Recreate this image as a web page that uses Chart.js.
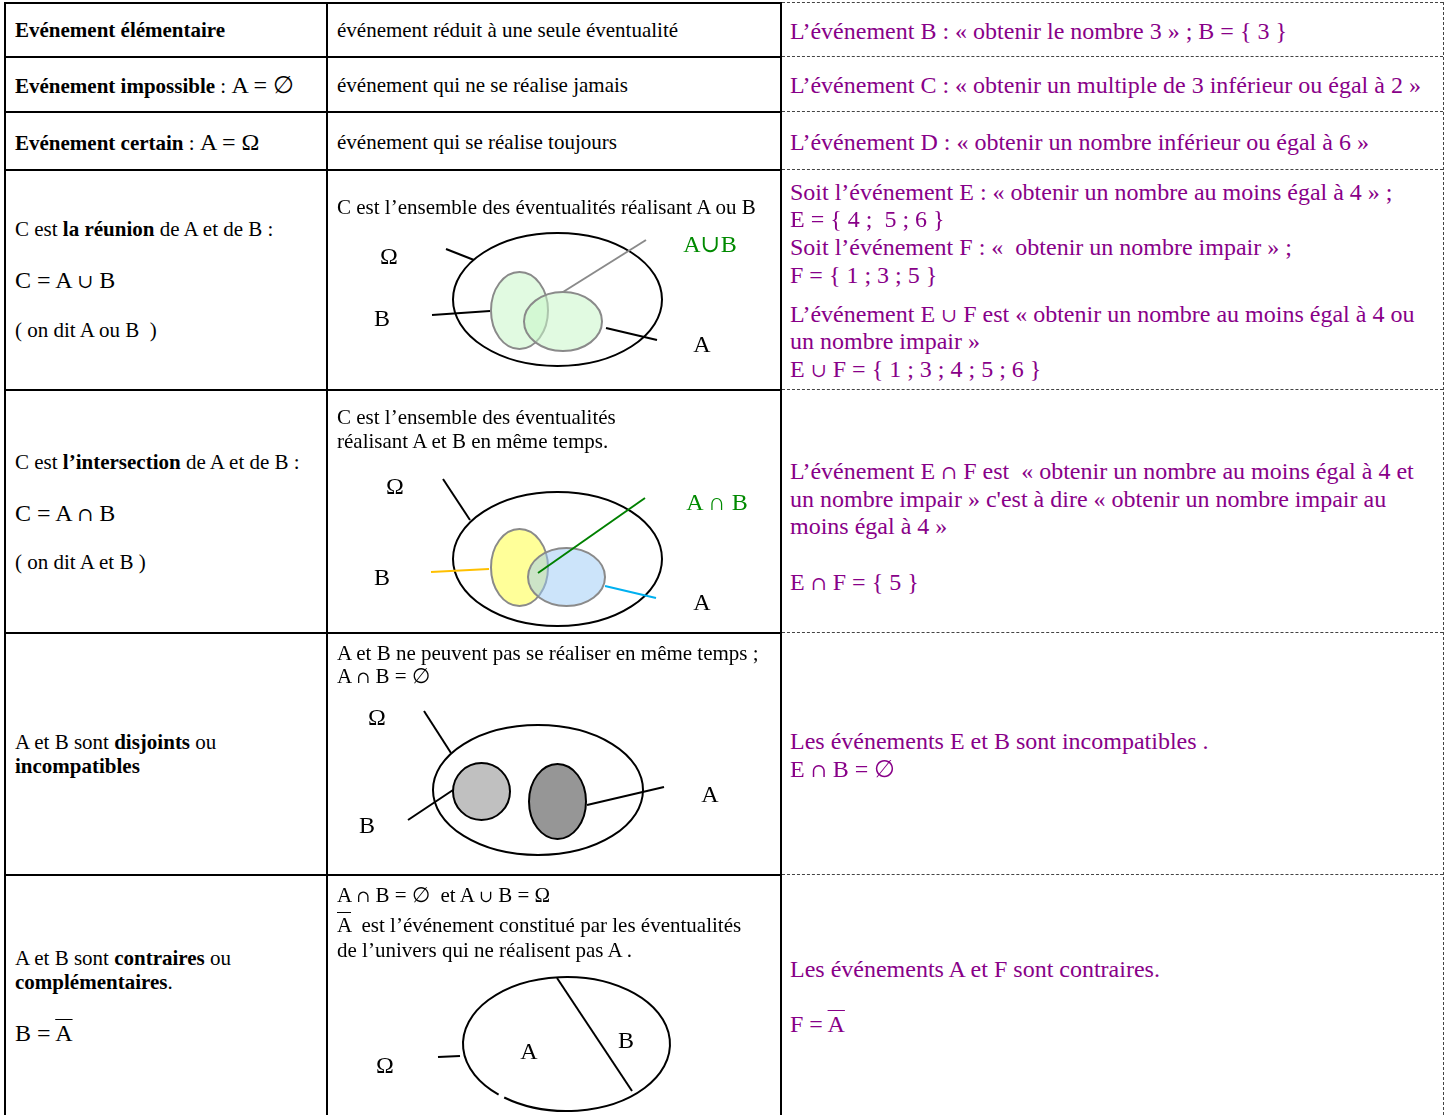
<!DOCTYPE html>
<html>
<head>
<meta charset="utf-8">
<script src="https://cdn.jsdelivr.net/npm/chart.js@4.4.1/dist/chart.umd.min.js"></script>
<style>
body{margin:0;background:#fff;width:1448px;height:1115px;overflow:hidden;position:relative;font-family:"Liberation Serif","DejaVu Serif","Times New Roman",serif;color:#000}
.t{position:absolute;white-space:pre;font-size:21px;line-height:24px;height:24px}
.r{color:#880088;font-size:24px;line-height:28px;height:28px}
.m{font-size:24px}
.s{font-family:"DejaVu Serif",serif;font-size:0.8em}
.ov{text-decoration:overline;text-decoration-thickness:1px}
.h{position:absolute;height:2px;background:#000}
.v{position:absolute;width:2px;background:#000}
.hd{position:absolute;height:0;border-top:1px dashed #444}
.vd{position:absolute;width:0;border-left:1px dashed #444}
.box{position:absolute}
.box canvas{position:absolute;left:0;top:0}
.lab{position:absolute;font-size:24px;line-height:24px;transform:translate(-50%,-50%);white-space:pre}
</style>
</head>
<body>
<script>
// table grid
const rowEdges = [2, 56, 111, 169, 389, 632, 874, 1116];
const colEdges = [4, 326, 780, 1443];
const colText = [15, 337, 790];

// text of each cell: [column, y centre, html]
const cellLines = [
  [0, 30, '<b>Evénement élémentaire</b>'],
  [0, 85, '<b>Evénement impossible</b> : <span class="m">A = ∅</span>'],
  [0, 142, '<b>Evénement certain</b> : <span class="m">A = Ω</span>'],
  [0, 229, 'C est <b>la réunion</b> de A et de B :'],
  [0, 280, '<span class="m">C = A <span class="s">∪</span> B</span>'],
  [0, 330, '( on dit A ou B  )'],
  [0, 462, 'C est <b>l’intersection</b> de A et de B :'],
  [0, 513, '<span class="m">C = A <span class="s">∩</span> B</span>'],
  [0, 562, '( on dit A et B )'],
  [0, 742, 'A et B sont <b>disjoints</b> ou'],
  [0, 766, '<b>incompatibles</b>'],
  [0, 958, 'A et B sont <b>contraires</b> ou'],
  [0, 982, '<b>complémentaires</b>.'],
  [0, 1033, '<span class="m">B = <span class="ov">A</span></span>'],
  [1, 30, 'événement réduit à une seule éventualité'],
  [1, 85, 'événement qui ne se réalise jamais'],
  [1, 142, 'événement qui se réalise toujours'],
  [1, 207, 'C est l’ensemble des éventualités réalisant A ou B'],
  [1, 417, 'C est l’ensemble des éventualités'],
  [1, 441, 'réalisant A et B en même temps.'],
  [1, 653, 'A et B ne peuvent pas se réaliser en même temps ;'],
  [1, 676, 'A <span class="s">∩</span> B = ∅'],
  [1, 895, 'A <span class="s">∩</span> B = ∅  et A <span class="s">∪</span> B = Ω'],
  [1, 925, '<span class="ov">A</span>  est l’événement constitué par les éventualités'],
  [1, 950, 'de l’univers qui ne réalisent pas A .'],
  [2, 31, 'L’événement B : « obtenir le nombre 3 » ; B = { 3 }'],
  [2, 85, 'L’événement C : « obtenir un multiple de 3 inférieur ou égal à 2 »'],
  [2, 142, 'L’événement D : « obtenir un nombre inférieur ou égal à 6 »'],
  [2, 192, 'Soit l’événement E : « obtenir un nombre au moins égal à 4 » ;'],
  [2, 219, 'E = { 4 ;  5 ; 6 }'],
  [2, 247, 'Soit l’événement F : «  obtenir un nombre impair » ;'],
  [2, 275, 'F = { 1 ; 3 ; 5 }'],
  [2, 314, 'L’événement E <span class="s">∪</span> F est « obtenir un nombre au moins égal à 4 ou'],
  [2, 341, 'un nombre impair »'],
  [2, 369, 'E <span class="s">∪</span> F = { 1 ; 3 ; 4 ; 5 ; 6 }'],
  [2, 471, 'L’événement E <span class="s">∩</span> F est  « obtenir un nombre au moins égal à 4 et'],
  [2, 499, 'un nombre impair » c\'est à dire « obtenir un nombre impair au'],
  [2, 526, 'moins égal à 4 »'],
  [2, 582, 'E <span class="s">∩</span> F = { 5 }'],
  [2, 741, 'Les événements E et B sont incompatibles .'],
  [2, 769, 'E <span class="s">∩</span> B = ∅'],
  [2, 969, 'Les événements A et F sont contraires.'],
  [2, 1024, 'F = <span class="ov">A</span>']
];

// diagrams, in units measured from the top-left of their cell
// ellipses: [cx, cy, rx, ry, fill, stroke, arcStart, arcEnd]
const unionEllipses = [
  [230.5, 130.5, 104.5, 66.5, null, '#000', 0, 360],
  [192.5, 141.5, 28.5, 38.5, 'rgba(200,245,200,0.55)', '#8a8a8a', 0, 360],
  [236, 152.5, 39, 29.5, 'rgba(200,245,200,0.55)', '#8a8a8a', 0, 360]
];
// lines: [x1, y1, x2, y2, colour]
const unionLines = [
  [119, 80, 147, 91, '#000'],
  [105, 146, 163, 142, '#000'],
  [279, 159, 330, 171, '#000'],
  [236, 123, 319, 71, '#8a8a8a']
];
// labels: [x, y, text, colour]
const unionLabels = [
  [62, 87, 'Ω', '#000'], [55, 149, 'B', '#000'], [375, 175, 'A', '#000'], [383, 75, 'A∪B', '#008a00']
];

const interEllipses = [
  [230.5, 170, 104.5, 67, null, '#000', 0, 360],
  [192.5, 178.5, 28.5, 38.5, '#ffff99', '#8a8a8a', 0, 360],
  [239.5, 188, 38.5, 29, 'rgba(153,201,245,0.5)', '#8a8a8a', 0, 360]
];
const interLines = [
  [116, 90, 143, 131, '#000'],
  [104, 183, 162, 180, '#ffc000'],
  [278, 197, 329, 209, '#00b0f0'],
  [211, 184, 318, 109, '#008000']
];
const interLabels = [
  [68, 97, 'Ω', '#000'], [55, 188, 'B', '#000'], [375, 213, 'A', '#000'], [390, 113, 'A ∩ B', '#008a00']
];

const disjEllipses = [
  [211, 158, 105, 65, null, '#000', 0, 360],
  [154.5, 159.5, 28.5, 28.5, '#c0c0c0', '#000', 0, 360],
  [230.5, 169.5, 28.5, 37.5, '#969696', '#000', 0, 360]
];
const disjLines = [
  [97, 79, 124, 121, '#000'],
  [81, 188, 126, 158, '#000'],
  [260, 173, 337, 155, '#000']
];
const disjLabels = [
  [50, 85, 'Ω', '#000'], [40, 193, 'B', '#000'], [383, 162, 'A', '#000']
];

const complEllipses = [
  [239.5, 170, 103.5, 67, null, '#000', 131, 487]
];
const complLines = [
  [230, 104, 305, 217, '#000'],
  [111, 183, 133, 182, '#000']
];
const complLabels = [
  [58, 191, 'Ω', '#000'], [202, 177, 'A', '#000'], [299, 166, 'B', '#000']
];

function add(cls, css, html) {
  const d = document.createElement('div');
  d.className = cls;
  Object.assign(d.style, css);
  if (html) d.innerHTML = html;
  document.body.appendChild(d);
  return d;
}

// ellipses are drawn from their datasets through the chart scales
const ellipsePlugin = {
  id: 'ellipses',
  beforeDatasetsDraw(chart) {
    const ctx = chart.ctx, xs = chart.scales.x, ys = chart.scales.y;
    chart.data.datasets.forEach(ds => {
      if (!ds.ellipse) return;
      const p = ds.data[0];
      const cx = xs.getPixelForValue(p.x), cy = ys.getPixelForValue(p.y);
      const rx = Math.abs(xs.getPixelForValue(p.x + ds.ellipse[0]) - cx);
      const ry = Math.abs(ys.getPixelForValue(p.y + ds.ellipse[1]) - cy);
      ctx.save();
      ctx.beginPath();
      ctx.ellipse(cx, cy, rx, ry, 0, ds.arc[0] * Math.PI / 180, ds.arc[1] * Math.PI / 180);
      if (ds.fillColor) { ctx.fillStyle = ds.fillColor; ctx.fill(); }
      ctx.lineWidth = 2;
      ctx.strokeStyle = ds.strokeColor;
      ctx.stroke();
      ctx.restore();
    });
  }
};

function diagram(row, ellipses, lines, labels) {
  const left = colEdges[1] + 1, top = rowEdges[row];
  const w = colEdges[2] - colEdges[1], h = rowEdges[row + 1] - rowEdges[row];
  const box = add('box', {left: left + 'px', top: top + 'px', width: w + 'px', height: h + 'px'});
  const cv = document.createElement('canvas');
  cv.width = w; cv.height = h;
  box.appendChild(cv);
  const datasets = [];
  ellipses.forEach(e => datasets.push({
    data: [{x: e[0], y: e[1]}], ellipse: [e[2], e[3]], fillColor: e[4], strokeColor: e[5],
    arc: [e[6], e[7]], pointRadius: 0
  }));
  lines.forEach(l => datasets.push({
    data: [{x: l[0], y: l[1]}, {x: l[2], y: l[3]}], showLine: true,
    borderColor: l[4], borderWidth: 2, pointRadius: 0
  }));
  new Chart(cv, {
    type: 'scatter',
    data: {datasets},
    plugins: [ellipsePlugin],
    options: {
      responsive: false,
      animation: false,
      events: [],
      layout: {padding: 0},
      plugins: {legend: {display: false}, tooltip: {enabled: false}},
      scales: {
        x: {type: 'linear', min: 0, max: w, display: false},
        y: {type: 'linear', min: 0, max: h, reverse: true, display: false}
      }
    }
  });
  labels.forEach(l => {
    const s = document.createElement('div');
    s.className = 'lab';
    s.style.left = l[0] + 'px';
    s.style.top = l[1] + 'px';
    s.style.color = l[3];
    s.textContent = l[2];
    box.appendChild(s);
  });
}

diagram(3, unionEllipses, unionLines, unionLabels);
diagram(4, interEllipses, interLines, interLabels);
diagram(5, disjEllipses, disjLines, disjLabels);
diagram(6, complEllipses, complLines, complLabels);

cellLines.forEach(([c, y, html]) => {
  const right = c === 2;
  const lh = right ? 28 : 24;
  add(right ? 't r' : 't', {left: colText[c] + 'px', top: (y - lh / 2) + 'px'}, html);
});

// borders
rowEdges.slice(0, -1).forEach(y => {
  add('h', {left: colEdges[0] + 'px', top: y + 'px', width: (colEdges[2] - colEdges[0] + 2) + 'px'});
  add('hd', {left: (colEdges[2] + 2) + 'px', top: y + 'px', width: (colEdges[3] - colEdges[2] - 2) + 'px'});
});
colEdges.slice(0, 3).forEach(x => {
  add('v', {left: x + 'px', top: rowEdges[0] + 'px', height: (1115 - rowEdges[0]) + 'px'});
});
add('vd', {left: colEdges[3] + 'px', top: rowEdges[0] + 'px', height: (1115 - rowEdges[0]) + 'px'});
</script>
</body>
</html>
